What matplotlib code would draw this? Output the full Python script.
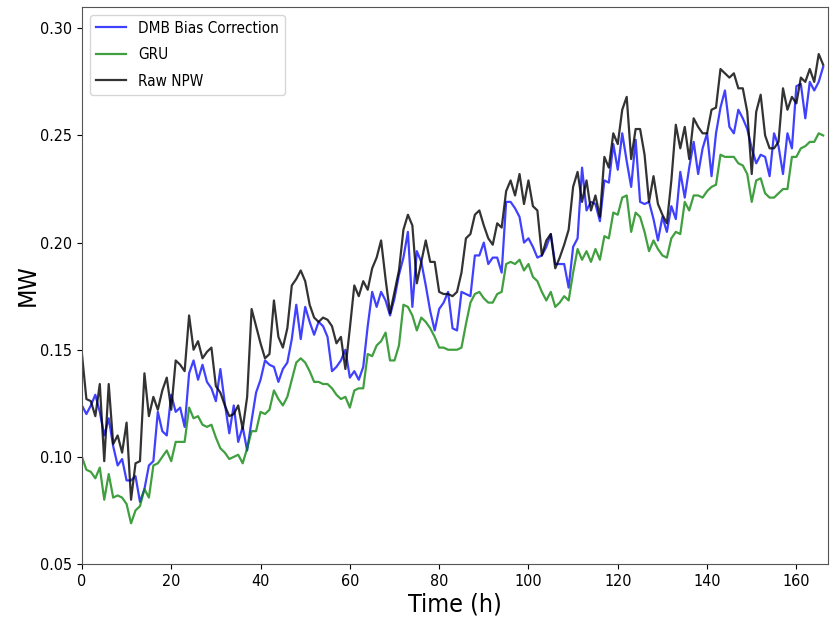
import matplotlib
matplotlib.use("Agg")
import matplotlib.pyplot as plt
import numpy as np

# hourly values (MW)
dmb = [
    0.124, 0.120, 0.124, 0.129, 0.121, 0.110, 0.118, 0.105, 0.096, 0.099,
    0.089, 0.089, 0.091, 0.079, 0.085, 0.096, 0.098, 0.121, 0.112, 0.110,
    0.129, 0.121, 0.123, 0.114, 0.139, 0.145, 0.136, 0.143, 0.135, 0.132,
    0.126, 0.141, 0.125, 0.111, 0.124, 0.107, 0.114, 0.103, 0.117, 0.130,
    0.136, 0.145, 0.143, 0.142, 0.135, 0.141, 0.144, 0.155, 0.171, 0.155,
    0.170, 0.163, 0.157, 0.163, 0.161, 0.156, 0.140, 0.142, 0.145, 0.150,
    0.137, 0.140, 0.136, 0.142, 0.161, 0.177, 0.170, 0.177, 0.173, 0.166,
    0.174, 0.185, 0.193, 0.205, 0.170, 0.196, 0.191, 0.180, 0.168, 0.159,
    0.169, 0.172, 0.177, 0.160, 0.159, 0.177, 0.176, 0.175, 0.194, 0.194,
    0.200, 0.190, 0.193, 0.193, 0.186, 0.219, 0.219, 0.216, 0.212, 0.200,
    0.202, 0.198, 0.193, 0.194, 0.198, 0.204, 0.190, 0.190, 0.190, 0.179,
    0.198, 0.202, 0.235, 0.215, 0.219, 0.218, 0.210, 0.229, 0.228, 0.246,
    0.234, 0.251, 0.238, 0.226, 0.248, 0.219, 0.218, 0.219, 0.211, 0.201,
    0.212, 0.205, 0.217, 0.211, 0.233, 0.221, 0.235, 0.247, 0.232, 0.244,
    0.251, 0.231, 0.251, 0.263, 0.271, 0.254, 0.251, 0.262, 0.258, 0.253,
    0.244, 0.237, 0.241, 0.240, 0.231, 0.251, 0.245, 0.232, 0.251, 0.244,
    0.273, 0.274, 0.258, 0.275, 0.271, 0.275, 0.282,
]
gru = [
    0.100, 0.094, 0.093, 0.090, 0.095, 0.080, 0.092, 0.081, 0.082, 0.081,
    0.078, 0.069, 0.075, 0.077, 0.085, 0.081, 0.096, 0.097, 0.100, 0.103,
    0.098, 0.107, 0.107, 0.107, 0.123, 0.118, 0.119, 0.115, 0.114, 0.115,
    0.109, 0.104, 0.102, 0.099, 0.100, 0.101, 0.097, 0.104, 0.112, 0.112,
    0.121, 0.120, 0.122, 0.131, 0.127, 0.124, 0.128, 0.136, 0.144, 0.146,
    0.144, 0.140, 0.135, 0.135, 0.134, 0.134, 0.132, 0.129, 0.127, 0.128,
    0.123, 0.131, 0.132, 0.132, 0.148, 0.147, 0.152, 0.154, 0.158, 0.145,
    0.145, 0.152, 0.171, 0.170, 0.166, 0.159, 0.165, 0.163, 0.160, 0.156,
    0.151, 0.151, 0.150, 0.150, 0.150, 0.151, 0.162, 0.172, 0.176, 0.177,
    0.174, 0.172, 0.172, 0.176, 0.177, 0.190, 0.191, 0.190, 0.192, 0.187,
    0.190, 0.184, 0.182, 0.177, 0.173, 0.177, 0.170, 0.172, 0.175, 0.173,
    0.186, 0.197, 0.192, 0.196, 0.191, 0.197, 0.192, 0.203, 0.202, 0.214,
    0.213, 0.221, 0.222, 0.205, 0.214, 0.212, 0.205, 0.196, 0.201, 0.197,
    0.194, 0.193, 0.202, 0.205, 0.204, 0.219, 0.215, 0.222, 0.222, 0.221,
    0.224, 0.226, 0.227, 0.241, 0.240, 0.240, 0.240, 0.237, 0.236, 0.232,
    0.219, 0.229, 0.230, 0.223, 0.221, 0.221, 0.223, 0.225, 0.225, 0.240,
    0.240, 0.244, 0.245, 0.247, 0.247, 0.251, 0.250,
]
raw_npw = [
    0.148, 0.127, 0.126, 0.119, 0.134, 0.098, 0.134, 0.106, 0.110, 0.102,
    0.116, 0.080, 0.097, 0.098, 0.139, 0.119, 0.128, 0.122, 0.131, 0.137,
    0.122, 0.145, 0.143, 0.140, 0.166, 0.150, 0.154, 0.146, 0.149, 0.151,
    0.133, 0.130, 0.124, 0.119, 0.120, 0.124, 0.113, 0.128, 0.169, 0.161,
    0.153, 0.146, 0.148, 0.173, 0.156, 0.151, 0.160, 0.180, 0.183, 0.187,
    0.182, 0.171, 0.165, 0.163, 0.165, 0.164, 0.161, 0.153, 0.156, 0.141,
    0.160, 0.180, 0.175, 0.182, 0.178, 0.188, 0.193, 0.201, 0.183, 0.167,
    0.177, 0.187, 0.206, 0.213, 0.208, 0.181, 0.191, 0.201, 0.191, 0.191,
    0.177, 0.176, 0.176, 0.175, 0.177, 0.186, 0.202, 0.204, 0.213, 0.215,
    0.208, 0.202, 0.199, 0.209, 0.207, 0.224, 0.229, 0.222, 0.232, 0.218,
    0.229, 0.217, 0.215, 0.194, 0.201, 0.204, 0.188, 0.193, 0.199, 0.206,
    0.226, 0.233, 0.219, 0.229, 0.215, 0.222, 0.212, 0.240, 0.235, 0.251,
    0.246, 0.262, 0.268, 0.239, 0.253, 0.253, 0.241, 0.219, 0.231, 0.218,
    0.213, 0.209, 0.229, 0.255, 0.244, 0.254, 0.239, 0.258, 0.254, 0.251,
    0.251, 0.262, 0.263, 0.281, 0.279, 0.277, 0.279, 0.272, 0.272, 0.261,
    0.232, 0.261, 0.269, 0.250, 0.244, 0.244, 0.247, 0.272, 0.262, 0.268,
    0.265, 0.277, 0.275, 0.281, 0.275, 0.288, 0.283,
]
hours = np.arange(len(dmb))

# the reference text looks narrow, use the condensed face
plt.rcParams["font.family"] = ["DejaVu Sans"]
plt.rcParams["font.stretch"] = "condensed"

fig = plt.figure(figsize=(8.36, 6.26), dpi=100)
ax = fig.add_axes([0.098, 0.099, 0.892, 0.890])

ax.plot(hours, dmb, color="blue", alpha=0.75, linewidth=1.6, label="DMB Bias Correction")
ax.plot(hours, gru, color="green", alpha=0.75, linewidth=1.6, label="GRU")
ax.plot(hours, raw_npw, color="black", alpha=0.8, linewidth=1.6, label="Raw NPW")

ax.set_xlim(0, len(dmb))
ax.set_ylim(0.05, 0.31)
ax.set_xticks(np.arange(0, 161, 20))
ax.set_yticks([0.05, 0.10, 0.15, 0.20, 0.25, 0.30])
ax.tick_params(labelsize=11.5)
ax.set_xlabel("Time (h)", fontsize=18, labelpad=3)
ax.set_ylabel("MW", fontsize=18, labelpad=0)

for spine in ax.spines.values():
    spine.set_color("#555555")

ax.legend(loc="upper left", fontsize=11, labelspacing=0.75)

fig.savefig("out.png", dpi=100)
